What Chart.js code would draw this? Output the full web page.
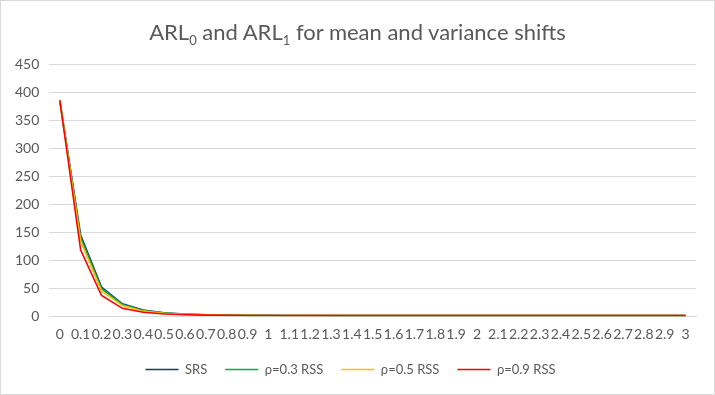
<!DOCTYPE html>
<html>
<head>
<meta charset="utf-8">
<script src="https://cdn.jsdelivr.net/npm/chart.js@4"></script>
<style>
  body { margin: 0; background: #fff; }
  #wrap { position: relative; width: 715px; height: 395px; box-sizing: border-box; border: 1px solid #d9d9d9; }
  #title { position: absolute; top: 17px; left: 0; right: 0; text-align: center; font-family: Lato, sans-serif; font-size: 22px; color: #595959; }
  #title sub { font-size: 13px; }
  canvas { position: absolute; left: 0; top: 0; }
</style>
</head>
<body>
<div id="wrap">
  <canvas id="chart" width="713" height="393"></canvas>
  <div id="title">ARL<sub>0</sub> and ARL<sub>1</sub> for mean and variance shifts</div>
</div>
<script>
const shifts = ["0","0.1","0.2","0.3","0.4","0.5","0.6","0.7","0.8","0.9","1","1.1","1.2","1.3","1.4","1.5","1.6","1.7","1.8","1.9","2","2.1","2.2","2.3","2.4","2.5","2.6","2.7","2.8","2.9","3"];
const srs   = [385, 145, 52, 22, 11, 6, 3.8, 2.7, 2, 1.6, 1.4, 1.25, 1.15, 1.1, 1.06, 1.04, 1.02, 1.01, 1.01, 1, 1, 1, 1, 1, 1, 1, 1, 1, 1, 1, 1];
const rss03 = [385, 140, 49, 21, 10, 5.5, 3.5, 2.5, 1.9, 1.55, 1.35, 1.2, 1.12, 1.07, 1.04, 1.02, 1.01, 1, 1, 1, 1, 1, 1, 1, 1, 1, 1, 1, 1, 1, 1];
const rss05 = [385, 134, 45, 19, 9, 5, 3.2, 2.3, 1.8, 1.5, 1.3, 1.18, 1.1, 1.05, 1.03, 1.01, 1, 1, 1, 1, 1, 1, 1, 1, 1, 1, 1, 1, 1, 1, 1];
const rss09 = [385, 118, 37, 14, 7, 4, 2.6, 1.9, 1.5, 1.3, 1.15, 1.08, 1.04, 1.02, 1.01, 1, 1, 1, 1, 1, 1, 1, 1, 1, 1, 1, 1, 1, 1, 1, 1];
const yTicks = [0, 50, 100, 150, 200, 250, 300, 350, 400, 450];

const font = { family: "Lato, sans-serif", size: 14 };

function line(label, data, color, order) {
  return { label, data, borderColor: color, backgroundColor: color, borderWidth: 1.6, pointRadius: 0, tension: 0, order };
}

new Chart(document.getElementById("chart"), {
  type: "line",
  data: {
    labels: shifts,
    datasets: [
      line("SRS", srs, "#203864", 3),
      line("ρ=0.3 RSS", rss03, "#00b050", 2),
      line("ρ=0.5 RSS", rss05, "#ffc000", 1),
      line("ρ=0.9 RSS", rss09, "#ff0000", 0)
    ]
  },
  options: {
    responsive: false,
    animation: false,
    layout: { padding: { top: 63, left: 4, right: 18, bottom: 8 } },
    plugins: {
      legend: {
        position: "bottom",
        labels: {
          usePointStyle: true,
          pointStyle: "line",
          pointStyleWidth: 33,
          boxWidth: 33,
          boxHeight: 10,
          padding: 18,
          color: "#595959",
          font: { family: "Lato, sans-serif", size: 13 },
          sort: (a, b) => a.datasetIndex - b.datasetIndex
        }
      },
      tooltip: { enabled: false }
    },
    scales: {
      x: {
        offset: true,
        grid: { display: false },
        border: { color: "#d9d9d9" },
        ticks: { color: "#595959", font, autoSkip: false, maxRotation: 0, minRotation: 0, padding: 2 }
      },
      y: {
        min: 0,
        max: 450,
        afterBuildTicks: axis => { axis.ticks = yTicks.map(v => ({ value: v })); },
        grid: { color: "#d9d9d9", drawTicks: false },
        border: { display: false },
        ticks: { color: "#595959", font, padding: 10 }
      }
    }
  }
});
</script>
</body>
</html>
